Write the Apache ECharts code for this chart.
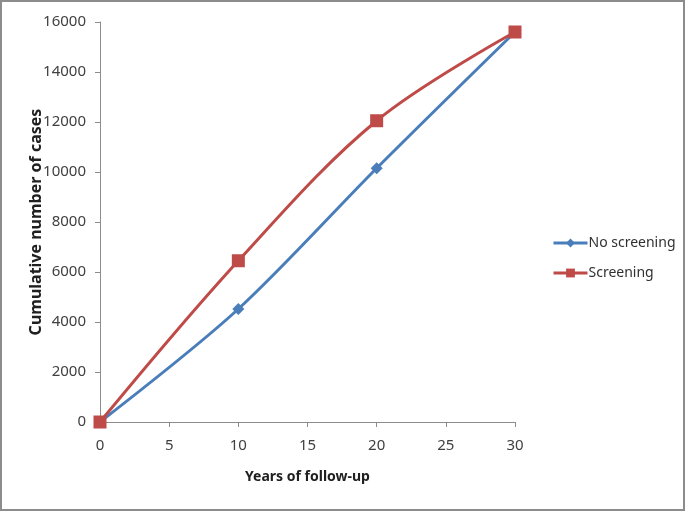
<!DOCTYPE html>
<html>
<head>
<meta charset="utf-8">
<script src="https://cdn.jsdelivr.net/npm/echarts@6/dist/echarts.min.js"></script>
<style>
  html, body { margin: 0; padding: 0; background: #fff; }
  .frame {
    position: absolute; left: 0; top: 0;
    width: 685px; height: 511px;
    box-sizing: border-box;
    border: 2px solid #8c8c8c;
  }
  #chart { width: 681px; height: 507px; }
</style>
</head>
<body>
<div class="frame"><div id="chart"></div></div>
<script>
// years of follow-up
var years = [0, 10, 20, 30]
// cumulative cases
var noScreening = [0, 4520, 10150, 15600]
var screening = [0, 6450, 12050, 15600]

var chart = echarts.init(document.getElementById('chart'))

function pairs(xs, ys) {
  return xs.map(function (x, i) { return [x, ys[i]] })
}

var labelFont = { color: '#404040', fontSize: 15, fontFamily: 'Noto Sans' }

var option = {
  animation: false,
  grid: { left: 98, right: 168, top: 20, bottom: 87 },
  legend: {
    orient: 'vertical',
    left: 545,
    top: 229,
    itemWidth: 34,
    itemHeight: 11,
    itemGap: 16,
    lineStyle: { width: 3 },
    textStyle: { color: '#303030', fontSize: 14, fontFamily: 'Noto Sans', padding: [0, 0, 0, -4] },
    data: ['No screening', 'Screening']
  },
  xAxis: {
    type: 'value',
    min: 0,
    max: 30,
    interval: 5,
    name: 'Years of follow-up',
    nameLocation: 'middle',
    nameGap: 48,
    nameMoveOverlap: false,
    nameTextStyle: { color: '#202020', fontSize: 14, fontWeight: 'bold', fontFamily: 'Noto Sans' },
    axisLine: { lineStyle: { color: '#8c8c8c', width: 1 } },
    axisTick: { show: true, length: 5, lineStyle: { color: '#8c8c8c' } },
    axisLabel: Object.assign({ margin: 16 }, labelFont),
    splitLine: { show: false }
  },
  yAxis: {
    type: 'value',
    min: 0,
    max: 16000,
    interval: 2000,
    name: 'Cumulative number of cases',
    nameLocation: 'middle',
    nameGap: 56,
    nameMoveOverlap: false,
    nameTextStyle: { color: '#202020', fontSize: 16, fontWeight: 'bold', fontFamily: 'Noto Sans' },
    axisLine: { show: true, lineStyle: { color: '#8c8c8c', width: 1 } },
    axisTick: { show: true, length: 5, lineStyle: { color: '#8c8c8c' } },
    axisLabel: Object.assign({ margin: 14, formatter: function (v) { return String(v) } }, labelFont),
    splitLine: { show: false }
  },
  series: [
    {
      name: 'No screening',
      type: 'line',
      smooth: 0.3,
      symbol: 'diamond',
      symbolSize: 12,
      itemStyle: { color: '#4a7ebb' },
      lineStyle: { color: '#4a7ebb', width: 3 },
      z: 2,
      data: pairs(years, noScreening)
    },
    {
      name: 'Screening',
      type: 'line',
      smooth: 0.35,
      symbol: 'rect',
      symbolSize: 13,
      itemStyle: { color: '#be4b48' },
      lineStyle: { color: '#be4b48', width: 3 },
      z: 3,
      data: pairs(years, screening)
    }
  ]
}

chart.setOption(option)
</script>
</body>
</html>
